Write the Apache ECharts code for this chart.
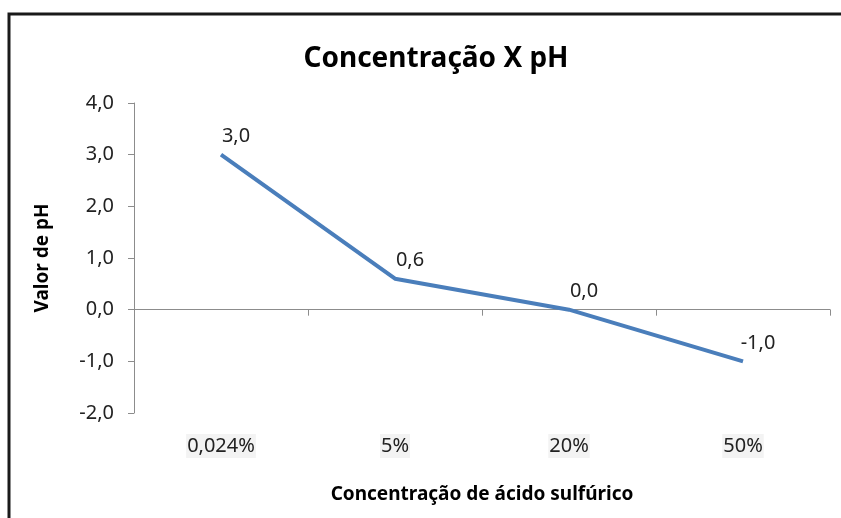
<!DOCTYPE html>
<html>
<head>
    <meta http-equiv="content-type" content="text/html;charset=utf-8">
    <script src="https://cdn.jsdelivr.net/npm/echarts@6/dist/echarts.min.js"></script>
    <style>
        html, body { margin: 0; padding: 0; background: #fff; }
        #chart { width: 841px; height: 518px; }
    </style>
</head>
<body>
<div id="chart"></div>

<script type="text/javascript">
    var categories = ['0,024%', '5%', '20%', '50%'];
    var phValues = [3.0, 0.6, 0.0, -1.0];
    var yMin = -2, yMax = 4, yStep = 1;

    var font = "'Noto Sans', 'Open Sans', sans-serif";
    function virgula(v) {
        return Number(v).toFixed(1).replace('.', ',');
    }

    var myChart = echarts.init(document.getElementById('chart'));
    var option = {
        backgroundColor: '#fff',
        animation: false,
        title: {
            text: 'Concentração X pH',
            left: 431,
            top: 40,
            textAlign: 'center',
            textStyle: { fontFamily: font, fontSize: 28, fontWeight: 'bold', color: '#000' }
        },
        graphic: [{
            type: 'rect',
            shape: { x: 9, y: 14, width: 900, height: 600 },
            style: { fill: 'none', stroke: '#1a1a1a', lineWidth: 3 },
            silent: true
        }],
        grid: { left: 134, right: 11, top: 103, bottom: 105 },
        xAxis: [{
            type: 'category',
            data: categories,
            axisLine: { onZero: true, lineStyle: { color: '#8c8c8c', width: 1 } },
            axisTick: { show: true, length: 6, lineStyle: { color: '#8c8c8c' } },
            axisLabel: { show: false }
        }, {
            type: 'category',
            data: categories,
            position: 'bottom',
            axisLine: { show: false },
            axisTick: { show: false },
            axisLabel: {
                margin: 21,
                fontFamily: font, fontSize: 20, color: '#222',
                backgroundColor: '#f3f3f3', padding: [2, 1, 2, 1]
            },
            name: 'Concentração de ácido sulfúrico',
            nameLocation: 'middle',
            nameGap: 72,
            nameTextStyle: { fontFamily: font, fontSize: 19, fontWeight: 'bold', color: '#000' }
        }],
        yAxis: {
            type: 'value',
            min: yMin,
            max: yMax,
            interval: yStep,
            splitLine: { show: false },
            axisLine: { show: true, lineStyle: { color: '#8c8c8c', width: 1 } },
            axisTick: { show: true, length: 6, lineStyle: { color: '#8c8c8c' } },
            axisLabel: {
                formatter: virgula,
                margin: 20,
                fontFamily: font, fontSize: 20, color: '#222'
            },
            name: 'Valor de pH',
            nameLocation: 'middle',
            nameGap: 82,
            nameTextStyle: { fontFamily: font, fontSize: 19, fontWeight: 'bold', color: '#000' }
        },
        series: [{
            type: 'line',
            data: phValues,
            showSymbol: true,
            symbol: 'circle',
            symbolSize: 0,
            lineStyle: { color: '#4a7ebb', width: 4 },
            itemStyle: { color: '#4a7ebb' },
            label: {
                show: true,
                position: 'top',
                distance: 8,
                offset: [15, 0],
                formatter: function (p) { return virgula(p.value); },
                fontFamily: font, fontSize: 20, color: '#222'
            }
        }]
    };
    myChart.setOption(option);
</script>
</body>
</html>
